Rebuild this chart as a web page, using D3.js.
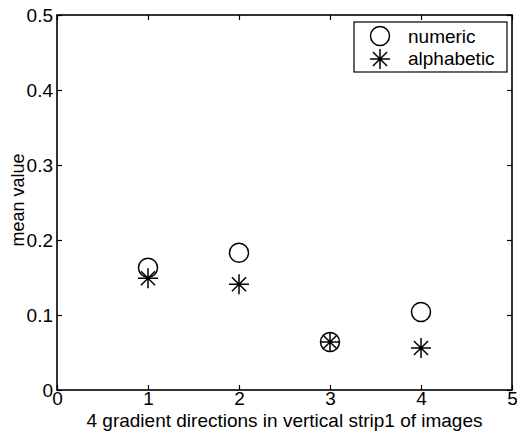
<!DOCTYPE html>
<html>
<head>
<meta charset="utf-8">
<script src="https://cdn.jsdelivr.net/npm/d3@7"></script>
<style>
  body { margin: 0; background: #fff; }
  svg text { font-family: "Liberation Sans", Arial, sans-serif; fill: #000; }
</style>
</head>
<body>
<div class="chart"></div>
<script>
const width = 517;
const height = 443;

const directions = [1, 2, 3, 4];
const numericValues = [0.163, 0.183, 0.064, 0.104];
const alphabeticValues = [0.149, 0.141, 0.064, 0.056];
const xTicks = [0, 1, 2, 3, 4, 5];
const yTicks = [0, 0.1, 0.2, 0.3, 0.4, 0.5];
const seriesNames = ['numeric', 'alphabetic'];

const margin = { top: 15, right: 5, bottom: 53, left: 57 };

const svg = d3.select('.chart').append('svg')
  .attr('width', width)
  .attr('height', height);

const x = d3.scaleLinear().domain([0, 5]).range([margin.left, width - margin.right]);
const y = d3.scaleLinear().domain([0, 0.5]).range([height - margin.bottom, margin.top]);

// box + inward ticks on all four sides, matlab style
const axisStyle = (g) => {
  g.select('.domain').remove();
  g.selectAll('line').attr('stroke', '#000').attr('stroke-width', 1.2);
  g.selectAll('text').attr('font-size', 19);
};

svg.append('g')
  .attr('transform', 'translate(0,' + y(0) + ')')
  .call(d3.axisBottom(x).tickValues(xTicks).tickFormat(d3.format('d')).tickSize(-5))
  .call(axisStyle)
  .selectAll('text').attr('y', 15).attr('dy', null);

svg.append('g')
  .attr('transform', 'translate(0,' + y(0.5) + ')')
  .call(d3.axisTop(x).tickValues(xTicks).tickFormat('').tickSize(-5))
  .call(axisStyle);

svg.append('g')
  .attr('transform', 'translate(' + x(0) + ',0)')
  .call(d3.axisLeft(y).tickValues(yTicks).tickFormat((d) => d === 0 ? '0' : d3.format('.1f')(d)).tickSize(-5).tickPadding(4))
  .call(axisStyle);

svg.append('g')
  .attr('transform', 'translate(' + x(5) + ',0)')
  .call(d3.axisRight(y).tickValues(yTicks).tickFormat('').tickSize(-5))
  .call(axisStyle);

svg.append('rect')
  .attr('x', x(0)).attr('y', y(0.5))
  .attr('width', x(5) - x(0)).attr('height', y(0) - y(0.5))
  .attr('fill', 'none').attr('stroke', '#000').attr('stroke-width', 1.6);

// labels
svg.append('text')
  .attr('x', (x(0) + x(5)) / 2).attr('y', height - 16)
  .attr('text-anchor', 'middle').attr('font-size', 19)
  .text('4 gradient directions in vertical strip1 of images');

svg.append('text')
  .attr('transform', 'translate(24,200) rotate(-90)')
  .attr('text-anchor', 'middle').attr('font-size', 18)
  .text('mean value');

// markers
const circleMark = (g, cx, cy) => {
  g.append('circle').attr('cx', cx).attr('cy', cy).attr('r', 9.5)
    .attr('fill', 'none').attr('stroke', '#000').attr('stroke-width', 1.5);
};
const starMark = (g, cx, cy) => {
  const r = 10;
  const d = r * Math.SQRT1_2;
  const path = 'M' + (cx - r) + ',' + cy + 'H' + (cx + r) +
    'M' + cx + ',' + (cy - r) + 'V' + (cy + r) +
    'M' + (cx - d) + ',' + (cy - d) + 'L' + (cx + d) + ',' + (cy + d) +
    'M' + (cx - d) + ',' + (cy + d) + 'L' + (cx + d) + ',' + (cy - d);
  g.append('path').attr('d', path).attr('stroke', '#000').attr('stroke-width', 1.5).attr('fill', 'none');
};

const marks = svg.append('g');
directions.forEach((dir, i) => {
  circleMark(marks, x(dir), y(numericValues[i]));
  starMark(marks, x(dir), y(alphabeticValues[i]));
});

// legend
const legend = svg.append('g');
legend.append('rect')
  .attr('x', 354).attr('y', 22).attr('width', 153).attr('height', 50)
  .attr('fill', '#fff').attr('stroke', '#000').attr('stroke-width', 1.2);
circleMark(legend, 380, 36);
starMark(legend, 380, 59);
legend.append('text').attr('x', 408).attr('y', 43).attr('font-size', 19).text(seriesNames[0]);
legend.append('text').attr('x', 408).attr('y', 65).attr('font-size', 19).text(seriesNames[1]);
</script>
</body>
</html>
